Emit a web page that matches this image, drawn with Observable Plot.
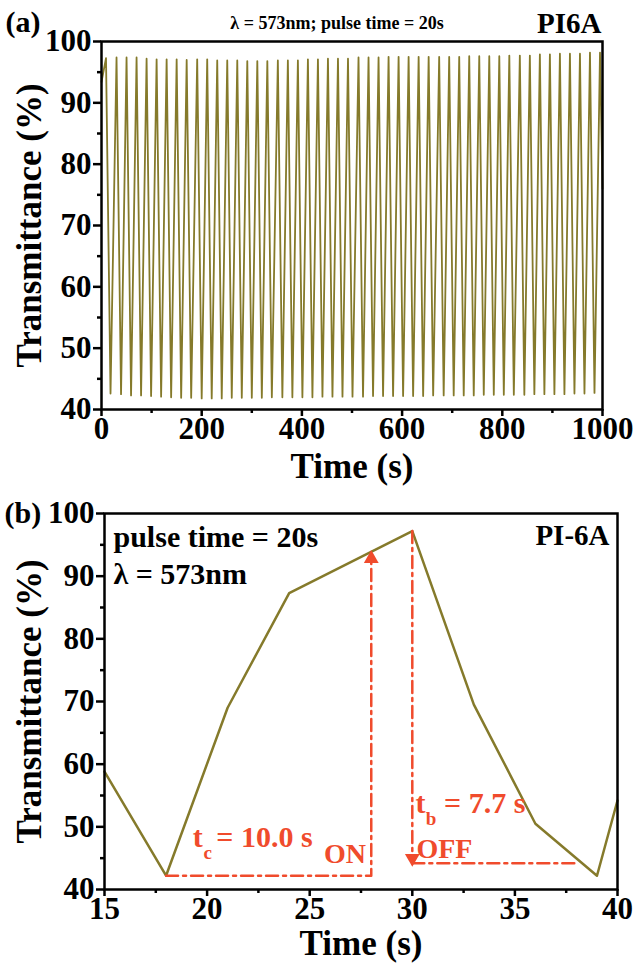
<!DOCTYPE html>
<html><head><meta charset="utf-8">
<script src="https://cdn.jsdelivr.net/npm/d3@7"></script>
<script src="https://cdn.jsdelivr.net/npm/@observablehq/plot@0.6"></script>
<style>
html,body{margin:0;padding:0;background:#fff;}
#wrap{position:relative;width:633px;height:963px;overflow:hidden;background:#fff;}
#a,#b{position:absolute;left:0;}
#a{top:0;} #b{top:480px;}
</style></head><body><div id="wrap"><div id="a"></div><div id="b"></div></div>
<script>
// ---------- Panel (a) data: cycling over 1000 s ----------
const edgeTimesA = [0, 1000];
const edgeValuesA = [93.4, 76];
const peakTimesA = [9, 30, 50, 70, 90, 110, 130, 150, 170, 191,
  211, 231, 251, 271, 291, 311, 331, 352, 372, 392,
  412, 432, 452, 472, 492, 513, 533, 553, 573, 593,
  613, 633, 653, 674, 694, 714, 734, 754, 774, 794,
  814, 835, 855, 875, 895, 915, 935, 955, 975, 995];
const peakValuesA = [97.3, 97.4, 97.4, 97.4, 97.2, 97.1, 97.1, 97.1, 97.0, 97.1,
  97.1, 96.9, 96.9, 96.9, 96.8, 96.8, 96.8, 96.9, 96.9, 96.9,
  97.1, 97.1, 97.2, 97.2, 97.2, 97.4, 97.4, 97.4, 97.5, 97.5,
  97.5, 97.5, 97.5, 97.5, 97.5, 97.5, 97.6, 97.6, 97.6, 97.6,
  97.7, 97.7, 97.7, 97.9, 97.9, 98.0, 98.0, 98.0, 98.2, 98.2];
const troughTimesA = [18, 39, 59, 79, 99, 119, 139, 159, 179, 200,
  220, 240, 260, 280, 300, 320, 340, 361, 381, 401,
  421, 441, 461, 481, 501, 522, 542, 562, 582, 602,
  622, 642, 662, 683, 703, 723, 743, 763, 783, 803,
  823, 844, 864, 884, 904, 924, 944, 964, 984];
const troughValuesA = [42.6, 42.5, 42.3, 42.3, 42.2, 42.1, 42.0, 41.9, 41.9, 41.8,
  41.8, 41.8, 41.9, 41.9, 41.9, 41.9, 42.0, 42.0, 42.0, 42.0,
  42.0, 42.1, 42.1, 42.1, 42.1, 42.1, 42.2, 42.2, 42.2, 42.2,
  42.2, 42.2, 42.3, 42.3, 42.3, 42.3, 42.3, 42.4, 42.4, 42.4,
  42.4, 42.4, 42.5, 42.5, 42.5, 42.5, 42.6, 42.6, 42.7];
const xTicksA = [0, 200, 400, 600, 800, 1000];
const xMinorA = [100, 300, 500, 700, 900];
const yTicks = [40, 50, 60, 70, 80, 90, 100];
const yMinor = [45, 55, 65, 75, 85, 95];

// ---------- Panel (b) data: one cycle ----------
const timeB = [15, 18, 21, 24, 30, 33, 36, 39, 40];
const transB = [58.8, 42.2, 69.0, 87.3, 97.2, 69.5, 50.5, 42.2, 54.2];
const xTicksB = [15, 20, 25, 30, 35, 40];
const xMinorB = [17.5, 22.5, 27.5, 32.5, 37.5];
// annotation values (colouring / switching times)
const onTimes = [18, 28];
const onLevel = 42.2;
const onTop = 93.6;
const offTimes = [30, 37.9];
const offLevel = 44.2;
const offTop = 97.2;

// ---------- build series ----------
const seriesA = [{t: edgeTimesA[0], v: edgeValuesA[0]}];
peakTimesA.forEach((t, i) => {
  seriesA.push({t, v: peakValuesA[i]});
  if (i < troughTimesA.length) seriesA.push({t: troughTimesA[i], v: troughValuesA[i]});
});
seriesA.push({t: edgeTimesA[1], v: edgeValuesA[1]});
const seriesB = timeB.map((t, i) => ({t, v: transB[i]}));

const font = "'Liberation Serif', 'Times New Roman', serif";
const olive = "#857a2b";
const red = "#f04b2c";
const dash = "12,5,3,5";
const tickFS = 31, titleFS = 35;
const fmt = d => String(d);
const baseStyle = {fontFamily: font, fontWeight: "bold", color: "black", background: "transparent", overflow: "visible"};

const chartA = Plot.plot({
  width: 633, height: 480,
  marginTop: 41, marginBottom: 71, marginLeft: 101, marginRight: 31,
  style: baseStyle,
  x: {domain: [0, 1000]},
  y: {domain: [40, 100]},
  marks: [
    Plot.line(seriesA, {x: "t", y: "v", stroke: olive, strokeWidth: 1.8}),
    Plot.axisX(xMinorA, {tickSize: 4, strokeWidth: 2.5, tickFormat: () => "", label: null}),
    Plot.axisX(xTicksA, {tickSize: 7, strokeWidth: 2.5, fontSize: tickFS, tickPadding: 0, tickFormat: fmt, label: null}),
    Plot.axisY(yMinor, {tickSize: 4, strokeWidth: 2.5, tickFormat: () => "", label: null}),
    Plot.axisY(yTicks, {tickSize: 8, strokeWidth: 2.5, fontSize: tickFS, tickPadding: 2, tickFormat: fmt, label: null}),
    Plot.frame({strokeWidth: 2.5}),
    Plot.text(["Time (s)"], {frameAnchor: "bottom", dy: 57, lineAnchor: "middle", fontSize: titleFS}),
    Plot.text(["Transmittance (%)"], {frameAnchor: "left", dx: -72, rotate: -90, lineAnchor: "middle", textAnchor: "middle", fontSize: titleFS}),
    Plot.text(["(a)"], {frameAnchor: "top-left", dx: -96, dy: -19, textAnchor: "start", lineAnchor: "middle", fontSize: 30}),
    Plot.text(["λ = 573nm; pulse time = 20s"], {frameAnchor: "top", dx: -15, dy: -18, lineAnchor: "middle", fontSize: 18}),
    Plot.text(["PI6A"], {frameAnchor: "top-right", dx: -1, dy: -18, textAnchor: "end", lineAnchor: "middle", fontSize: 29})
  ]
});
document.getElementById("a").appendChild(chartA);

const chartB = Plot.plot({
  width: 633, height: 483,
  marginTop: 33, marginBottom: 74, marginLeft: 104, marginRight: 16,
  style: baseStyle,
  x: {domain: [15, 40]},
  y: {domain: [40, 100]},
  marks: [
    Plot.line(seriesB, {x: "t", y: "v", stroke: olive, strokeWidth: 2.5}),
    Plot.line(onTimes.concat([onTimes[1]]).map((t, i) => ({t, v: i < 2 ? onLevel : onTop - 1.2})), {x: "t", y: "v", stroke: red, strokeWidth: 2.5, strokeDasharray: dash}),
    Plot.dot([{t: onTimes[1], v: onTop}], {x: "t", y: "v", symbol: "triangle", r: 5.5, fill: red, stroke: "none", dy: 5}),
    Plot.line([{t: offTimes[0], v: offTop}, {t: offTimes[0], v: offLevel + 1.2}], {x: "t", y: "v", stroke: red, strokeWidth: 2.5, strokeDasharray: dash}),
    Plot.line([{t: offTimes[0], v: offLevel}, {t: offTimes[1], v: offLevel}], {x: "t", y: "v", stroke: red, strokeWidth: 2.5, strokeDasharray: dash}),
    Plot.dot([{t: offTimes[0], v: offLevel}], {x: "t", y: "v", symbol: "triangle", r: 5.5, fill: red, stroke: "none", rotate: 180, dy: -5}),
    Plot.text(["t"], {x: () => 19.3, y: () => 46.7, dy: -10, textAnchor: "start", lineAnchor: "middle", fontSize: 30, fill: red}),
    Plot.text(["c"], {x: () => 19.82, y: () => 44.9, dy: -6, textAnchor: "start", lineAnchor: "middle", fontSize: 19, fill: red}),
    Plot.text(["= 10.0 s"], {x: () => 20.45, y: () => 46.7, dy: -10, textAnchor: "start", lineAnchor: "middle", fontSize: 30, fill: red}),
    Plot.text(["ON"], {x: () => 25.7, y: () => 44.3, dy: -9, textAnchor: "start", lineAnchor: "middle", fontSize: 28, fill: red}),
    Plot.text(["t"], {x: () => 30.15, y: () => 52.2, dy: -10, textAnchor: "start", lineAnchor: "middle", fontSize: 30, fill: red}),
    Plot.text(["b"], {x: () => 30.66, y: () => 50.3, dy: -6, textAnchor: "start", lineAnchor: "middle", fontSize: 19, fill: red}),
    Plot.text(["= 7.7 s"], {x: () => 31.55, y: () => 52.2, dy: -10, textAnchor: "start", lineAnchor: "middle", fontSize: 30, fill: red}),
    Plot.text(["OFF"], {x: () => 30.2, y: () => 45.1, dy: -9, textAnchor: "start", lineAnchor: "middle", fontSize: 28, fill: red}),
    Plot.axisX(xMinorB, {tickSize: 4, strokeWidth: 2.5, tickFormat: () => "", label: null}),
    Plot.axisX(xTicksB, {tickSize: 7, strokeWidth: 2.5, fontSize: tickFS, tickPadding: 0, tickFormat: fmt, label: null}),
    Plot.axisY(yMinor, {tickSize: 4, strokeWidth: 2.5, tickFormat: () => "", label: null}),
    Plot.axisY(yTicks, {tickSize: 8, strokeWidth: 2.5, fontSize: tickFS, tickPadding: 2, tickFormat: fmt, label: null}),
    Plot.frame({strokeWidth: 2.5}),
    Plot.text(["Time (s)"], {frameAnchor: "bottom", dy: 54, lineAnchor: "middle", fontSize: titleFS}),
    Plot.text(["Transmittance (%)"], {frameAnchor: "left", dx: -75, rotate: -90, lineAnchor: "middle", textAnchor: "middle", fontSize: titleFS}),
    Plot.text(["(b)"], {frameAnchor: "top-left", dx: -100, dy: 0, textAnchor: "start", lineAnchor: "middle", fontSize: 30}),
    Plot.text(["pulse time = 20s"], {frameAnchor: "top-left", dx: 9, dy: 24, textAnchor: "start", lineAnchor: "middle", fontSize: 30}),
    Plot.text(["λ = 573nm"], {frameAnchor: "top-left", dx: 9, dy: 61, textAnchor: "start", lineAnchor: "middle", fontSize: 30}),
    Plot.text(["PI-6A"], {frameAnchor: "top-right", dx: -8, dy: 22, textAnchor: "end", lineAnchor: "middle", fontSize: 29})
  ]
});
document.getElementById("b").appendChild(chartB);
</script></body></html>
